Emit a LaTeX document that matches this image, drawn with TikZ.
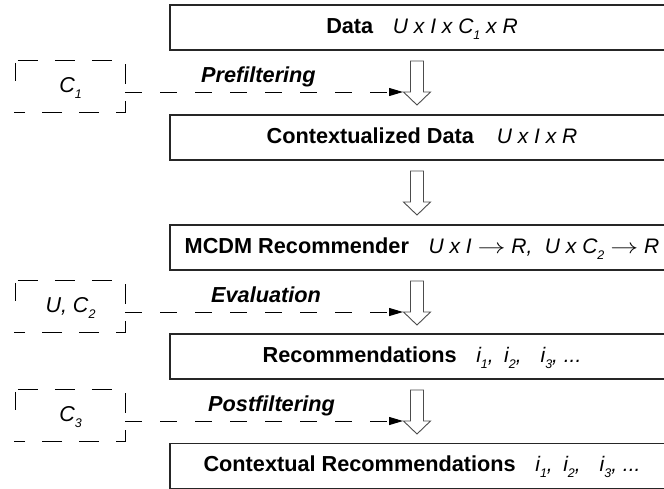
\documentclass[tikz,border=0pt]{standalone}
\usepackage{fontspec}
\setmainfont{Liberation Sans}
\usetikzlibrary{arrows.meta}

% lowered small index, as in C_1
\newcommand\subidx[1]{\raisebox{-6pt}{\fontsize{12.5}{13}\selectfont #1}}
% italic symbol part of a stage label
\newcommand\symb[1]{{\fontsize{21}{25}\selectfont\itshape #1}}
% thin mapping arrow
\newcommand\maparr{\scalebox{1.35}[1]{$\rightarrow$}}

\tikzset{
  stagebox/.style={draw=black!85, line width=1.3pt, minimum width=504pt,
    minimum height=45pt, inner sep=0pt, text height=15pt, text depth=4pt,
    font=\fontsize{21.7}{26}\selectfont},
  ctxbox/.style={minimum width=109pt, minimum height=51pt, inner sep=0pt,
    text height=15pt, text depth=4pt, font=\fontsize{21.5}{26}\selectfont\itshape},
  ctxline/.style={draw=black, line width=1pt, dash pattern=on 20pt off 17pt,
    dash phase=35pt},
  ctxtick/.style={draw=black, line width=1pt},
  flowline/.style={draw=black, line width=1pt, dash pattern=on 17pt off 18pt,
    -{Triangle[length=14pt,width=8pt]}},
  steplabel/.style={anchor=base west, inner sep=0pt,
    font=\fontsize{21.7}{26}\selectfont\bfseries\itshape},
  blockarrow/.style={draw=black!70, line width=0.9pt, fill=white, line join=miter}
}

% hollow downward block arrow whose shaft top centre is #1
\newcommand\blockdown[1]{%
  \draw[blockarrow] (#1) ++(-6.5,0) -- ++(0,31) -- ++(-7,0) -- ++(13.5,13)
    -- ++(13.5,-13) -- ++(-7,0) -- ++(0,-31) -- cycle;}

\begin{document}
\begin{tikzpicture}[x=1pt,y=-1pt]
\clip (0,0) rectangle (664,488);
\fill[white] (0,0) rectangle (664,488);

% processing stages
\node[stagebox] (data) at (422,27.5)
  {\textbf{Data}\hspace{0.9em}\symb{U x I x C\subidx{1} x R}};
\node[stagebox] (ctxdata) at (422,137.5)
  {\textbf{Contextualized Data}\hspace{1.05em}\symb{U x I x R}};
\node[stagebox] (mcdm) at (422,247.5)
  {\textbf{MCDM Recommender}\hspace{0.9em}\symb{U x I \maparr\ R,\hspace{0.6em}U x C\subidx{2} \maparr\ R}};
\node[stagebox] (recs) at (422,356.5)
  {\textbf{Recommendations}\hspace{0.9em}\symb{i\subidx{1},\hspace{0.5em}i\subidx{2},\hspace{0.9em}i\subidx{3}, ...}};
\node[stagebox] (ctxrecs) at (422,466)
  {\textbf{Contextual Recommendations}\hspace{0.9em}\symb{i\subidx{1},\hspace{0.5em}i\subidx{2},\hspace{0.9em}i\subidx{3}, ...}};

% block arrows between stages
\coordinate (a1) at (417,61);
\coordinate (a2) at (417,171);
\coordinate (a3) at (417,281);
\coordinate (a4) at (417,390);
\blockdown{a1}
\blockdown{a2}
\blockdown{a3}
\blockdown{a4}

% corners of the arrow heads where the context lines arrive
\coordinate (h1) at (403,92);
\coordinate (h3) at (403,312);
\coordinate (h4) at (403,421);

% context inputs: dashed outline open on the left, with one short left tick
\node[ctxbox] (c1) at (70.5,86.5) {C\subidx{1}};
\node[ctxbox] (c2) at (70.5,306.5) {U, C\subidx{2}};
\node[ctxbox] (c3) at (70.5,415.5) {C\subidx{3}};
\foreach \c in {c1,c2,c3}{
  \draw[ctxline] (\c.north west) -- (\c.north east) -- (\c.south east)
    -- ([xshift=-2pt]\c.south west);
  \draw[ctxtick] (\c.north west) ++(0,2) -- ++(0,18);
}

% context flows into the pipeline
\draw[flowline] (c1.east |- h1) -- (h1);
\draw[flowline] (c2.east |- h3) -- (h3);
\draw[flowline] (c3.east |- h4) -- (h4);

\node[steplabel] (pre) at (201,82) {Prefiltering};
\node[steplabel] (eval) at (211,302) {Evaluation};
\node[steplabel] (post) at (208,411) {Postfiltering};
\end{tikzpicture}
\end{document}
